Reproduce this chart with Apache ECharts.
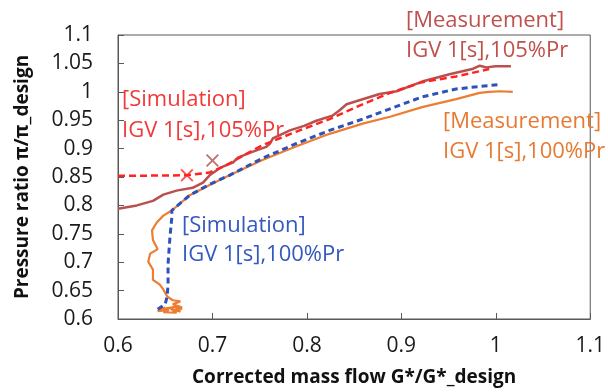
<!DOCTYPE html>
<html>
<head>
<meta charset="utf-8">
<script src="https://cdn.jsdelivr.net/npm/echarts@6/dist/echarts.min.js"></script>
<style>
  html, body { margin: 0; padding: 0; background: #fff; }
  #chart { width: 608px; height: 392px; }
</style>
</head>
<body>
<div id="chart"></div>
<script>
// axis ticks
var xTicks = [0.6, 0.7, 0.8, 0.9, 1, 1.1];
var yTicks = [0.6, 0.65, 0.7, 0.75, 0.8, 0.85, 0.9, 0.95, 1, 1.05, 1.1];

// [Measurement] IGV 1[s],105%Pr
var meas105Flow = [0.600, 0.620, 0.637, 0.648, 0.662, 0.679, 0.690, 0.697, 0.708, 0.722, 0.727, 0.740, 0.757, 0.761, 0.764, 0.782, 0.797, 0.810, 0.827, 0.835, 0.842, 0.859, 0.877, 0.895, 0.922, 0.951, 0.975, 0.983, 0.990, 1.000, 1.016];
var meas105Pr   = [0.794, 0.800, 0.808, 0.819, 0.826, 0.831, 0.840, 0.853, 0.866, 0.876, 0.884, 0.893, 0.903, 0.909, 0.918, 0.932, 0.940, 0.949, 0.958, 0.968, 0.978, 0.987, 0.996, 1.001, 1.018, 1.031, 1.040, 1.046, 1.043, 1.045, 1.045];

// [Simulation] IGV 1[s],105%Pr
var sim105Flow = [0.600, 0.673, 0.697, 0.715, 0.735, 0.753, 0.789, 0.824, 0.859, 0.888, 0.922, 0.958, 0.993];
var sim105Pr   = [0.852, 0.853, 0.858, 0.871, 0.890, 0.906, 0.930, 0.952, 0.978, 0.998, 1.017, 1.027, 1.040];

// [Measurement] IGV 1[s],100%Pr
var meas100Flow = [0.668, 0.660, 0.666, 0.655, 0.662, 0.648, 0.654, 0.642, 0.650, 0.645, 0.662, 0.668, 0.658, 0.666, 0.658, 0.652, 0.648, 0.644, 0.637, 0.637, 0.632, 0.634, 0.642, 0.637, 0.636, 0.641, 0.648, 0.657, 0.676, 0.697, 0.718, 0.753, 0.789, 0.824, 0.859, 0.888, 0.922, 0.958, 0.983, 0.993, 1.005, 1.018];
var meas100Pr   = [0.617, 0.622, 0.613, 0.619, 0.611, 0.612, 0.616, 0.614, 0.620, 0.617, 0.622, 0.620, 0.626, 0.631, 0.633, 0.640, 0.652, 0.661, 0.669, 0.687, 0.701, 0.715, 0.723, 0.739, 0.756, 0.770, 0.782, 0.791, 0.818, 0.836, 0.853, 0.880, 0.904, 0.926, 0.944, 0.956, 0.973, 0.987, 0.998, 1.000, 1.001, 1.000];

// [Simulation] IGV 1[s],100%Pr
var sim100Flow = [0.642, 0.650, 0.652, 0.653, 0.653, 0.655, 0.657, 0.657, 0.676, 0.697, 0.718, 0.753, 0.789, 0.824, 0.859, 0.888, 0.922, 0.958, 0.993, 1.004];
var sim100Pr   = [0.617, 0.626, 0.640, 0.660, 0.697, 0.744, 0.779, 0.791, 0.818, 0.837, 0.853, 0.883, 0.909, 0.932, 0.952, 0.970, 0.991, 1.005, 1.011, 1.013];

// surge points (x markers)
var surgeSim105 = [0.673, 0.853];
var surgeMeas105 = [0.700, 0.879];

function pairs(xs, ys) {
    var out = [];
    for (var i = 0; i < xs.length; i++) {
        out.push([xs[i], ys[i]]);
    }
    return out;
}

var crossPath = 'path://M0,2 L2,0 L10,8 L18,0 L20,2 L12,10 L20,18 L18,20 L10,12 L2,20 L0,18 L8,10 Z';
var txtFont = '"Open Sans", sans-serif';

var chart = echarts.init(document.getElementById('chart'), null, { renderer: 'canvas' });

var option = {
    animation: false,
    textStyle: { fontFamily: txtFont },
    grid: {
        left: 118, right: 17, top: 35, bottom: 69,
        show: true, borderColor: '#595959', borderWidth: 1
    },
    xAxis: {
        type: 'value',
        min: xTicks[0], max: xTicks[xTicks.length - 1], interval: 0.1,
        name: 'Corrected mass flow G*/G*_design',
        nameLocation: 'middle', nameGap: 49,
        nameTextStyle: { fontFamily: txtFont, fontWeight: 'bold', fontSize: 19, color: '#111' },
        axisLine: { lineStyle: { color: '#595959' } },
        axisTick: { inside: true, length: 6, lineStyle: { color: '#595959' } },
        axisLabel: { fontFamily: txtFont, fontSize: 21, color: '#1a1a1a', margin: 17 },
        splitLine: { show: false }
    },
    yAxis: {
        type: 'value',
        min: yTicks[0], max: yTicks[yTicks.length - 1], interval: 0.05,
        name: 'Pressure ratio \u03c0/\u03c0_design',
        nameLocation: 'middle', nameGap: 86,
        nameTextStyle: { fontFamily: txtFont, fontWeight: 'bold', fontSize: 19, color: '#111' },
        axisLine: { lineStyle: { color: '#595959' } },
        axisTick: { inside: true, length: 6, lineStyle: { color: '#595959' } },
        axisLabel: { fontFamily: txtFont, fontSize: 21, color: '#1a1a1a', margin: 25 },
        splitLine: { show: false }
    },
    series: [
        {
            name: 'Measurement 105%', type: 'line', showSymbol: false,
            data: pairs(meas105Flow, meas105Pr),
            lineStyle: { color: '#b9504e', width: 2.5 }
        },
        {
            name: 'Measurement 100%', type: 'line', showSymbol: false,
            data: pairs(meas100Flow, meas100Pr),
            lineStyle: { color: '#ed7d31', width: 2.2 }
        },
        {
            name: 'Simulation 105%', type: 'line', showSymbol: false,
            data: pairs(sim105Flow, sim105Pr),
            lineStyle: { color: '#ff2424', width: 2.5, type: [7, 4] }
        },
        {
            name: 'Simulation 100%', type: 'line', showSymbol: false,
            data: pairs(sim100Flow, sim100Pr),
            lineStyle: { color: '#2f52b8', width: 3, type: [6, 4] }
        },
        {
            type: 'scatter', symbol: crossPath, symbolSize: 13,
            data: [surgeSim105],
            itemStyle: { color: '#ff2424' }
        },
        {
            type: 'scatter', symbol: crossPath, symbolSize: 13,
            data: [surgeMeas105],
            itemStyle: { color: '#a9504e' }
        }
    ],
    graphic: [
        { type: 'text', left: 122, top: 84, style: { text: '[Simulation]\nIGV 1[s],105%Pr', fill: '#f03a3a', font: '22px ' + txtFont, lineHeight: 31 } },
        { type: 'text', left: 406, top: 6, style: { text: '[Measurement]\nIGV 1[s],105%Pr', fill: '#c0504d', font: '22px ' + txtFont, lineHeight: 30 } },
        { type: 'text', left: 443, top: 107, style: { text: '[Measurement]\nIGV 1[s],100%Pr', fill: '#e77a33', font: '22px ' + txtFont, lineHeight: 30 } },
        { type: 'text', left: 182, top: 211, style: { text: '[Simulation]\nIGV 1[s],100%Pr', fill: '#3458bd', font: '22px ' + txtFont, lineHeight: 29 } }
    ]
};

chart.setOption(option);
</script>
</body>
</html>
